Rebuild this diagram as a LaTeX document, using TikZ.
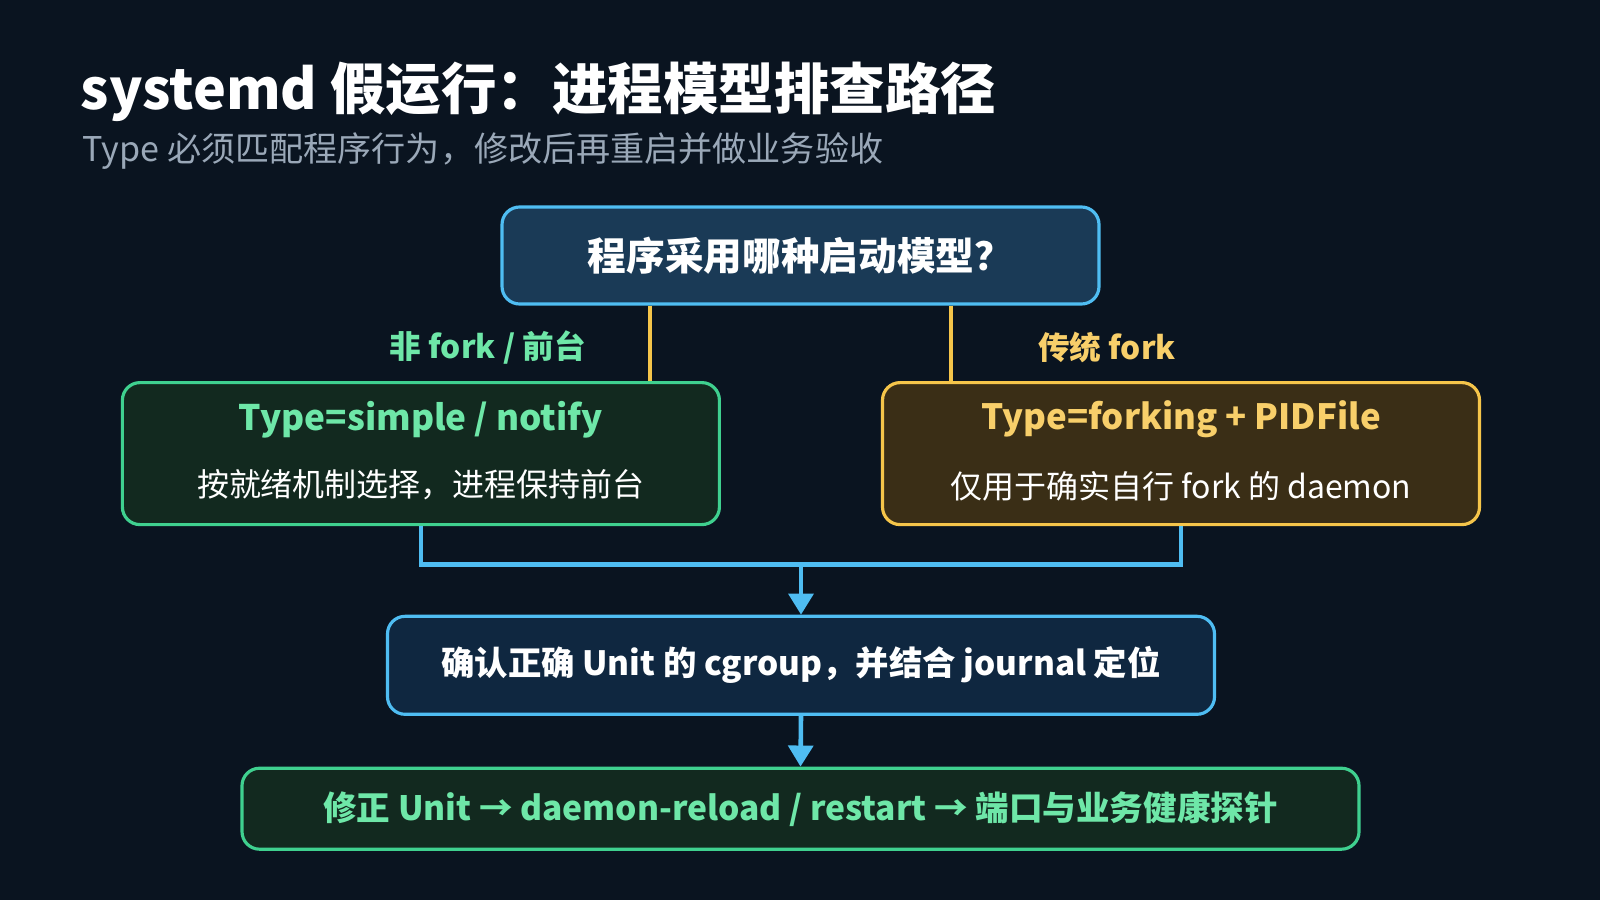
\documentclass[tikz,border=0pt]{standalone}
\usepackage{fontspec}
\setmainfont{Noto Sans CJK SC}
\usetikzlibrary{arrows.meta}
\definecolor{bg}{HTML}{0A1420}
\definecolor{sky}{HTML}{4FBDF2}
\definecolor{mint}{HTML}{3FD08F}
\definecolor{mintt}{HTML}{6EE7A8}
\definecolor{gold}{HTML}{F5C54A}
\definecolor{goldt}{HTML}{F8CF6A}
\definecolor{subt}{HTML}{9AA8B8}
\definecolor{qfill}{HTML}{1A3A56}
\definecolor{gfill}{HTML}{12291F}
\definecolor{yfill}{HTML}{3A2E16}
\definecolor{cfill}{HTML}{0F2740}
\tikzset{
  box/.style={draw, rounded corners=5pt, line width=0.9pt, inner sep=0pt},
  link/.style={line width=1.3pt},
  flow/.style={line width=1.3pt, sky, -{Triangle[length=6pt,width=7pt]}}
}
\begin{document}
\begin{tikzpicture}[x=1cm,y=1cm]
\fill[bg] (0,0) rectangle (16,9);
\useasboundingbox (0,0) rectangle (16,9);
% titel
\node[anchor=west, inner sep=0pt, text=white, font=\fontsize{15.8}{18}\selectfont\bfseries] (title) at (0.8,8.08) {systemd 假运行：进程模型排查路径};
\node[anchor=west, inner sep=0pt, text=subt, font=\fontsize{9.7}{11}\selectfont] (sub) at (0.82,7.49) {Type 必须匹配程序行为，修改后再重启并做业务验收};
% kaders
\node[box, sky, fill=qfill, minimum width=5.97cm, minimum height=0.97cm, text=white, font=\fontsize{11}{12}\selectfont\bfseries] (q) at (8.005,6.445) {程序采用哪种启动模型？};
\node[box, mint, fill=gfill, minimum width=5.97cm, minimum height=1.42cm] (simple) at (4.209,4.464) {};
\node[text=mintt, font=\fontsize{10}{12}\selectfont\bfseries] (simplet) at (4.209,4.8) {Type=simple / notify};
\node[text=white, font=\fontsize{9.1}{11}\selectfont] (simpled) at (4.209,4.15) {按就绪机制选择，进程保持前台};
\node[box, gold, fill=yfill, minimum width=5.97cm, minimum height=1.42cm] (fork) at (11.81,4.464) {};
\node[text=goldt, font=\fontsize{9.9}{12}\selectfont\bfseries] (forkt) at (11.81,4.81) {Type=forking + PIDFile};
\node[text=white, font=\fontsize{9.1}{11}\selectfont] (forkd) at (11.81,4.14) {仅用于确实自行 fork 的 daemon};
\node[box, sky, fill=cfill, minimum width=8.27cm, minimum height=0.98cm, text=white, font=\fontsize{9.5}{12}\selectfont\bfseries] (cg) at (8.01,2.347) {确认正确 Unit 的 cgroup，并结合 journal 定位};
\node[box, mint, fill=gfill, minimum width=11.17cm, minimum height=0.81cm, text=mintt, font=\fontsize{9.55}{12}\selectfont\bfseries] (fix) at (8.005,0.913) {修正 Unit → daemon-reload / restart → 端口与业务健康探针};
% takken
\node[text=mintt, font=\fontsize{9}{11}\selectfont\bfseries] (lsimple) at (4.878,5.53) {非 fork / 前台};
\node[text=goldt, font=\fontsize{9}{11}\selectfont\bfseries] (lfork) at (11.07,5.53) {传统 fork};
\draw[link, gold] (q.south -| 6.5,0) -- (simple.north -| 6.5,0);
\draw[link, gold] (q.south -| 9.51,0) -- (fork.north -| 9.51,0);
\coordinate (join) at (8.01,3.357);
\draw[link, sky] (simple.south) |- (join) -| (fork.south);
\draw[flow] (join) -- (cg.north);
\draw[flow] (cg.south) -- (fix.north);
\end{tikzpicture}
\end{document}
